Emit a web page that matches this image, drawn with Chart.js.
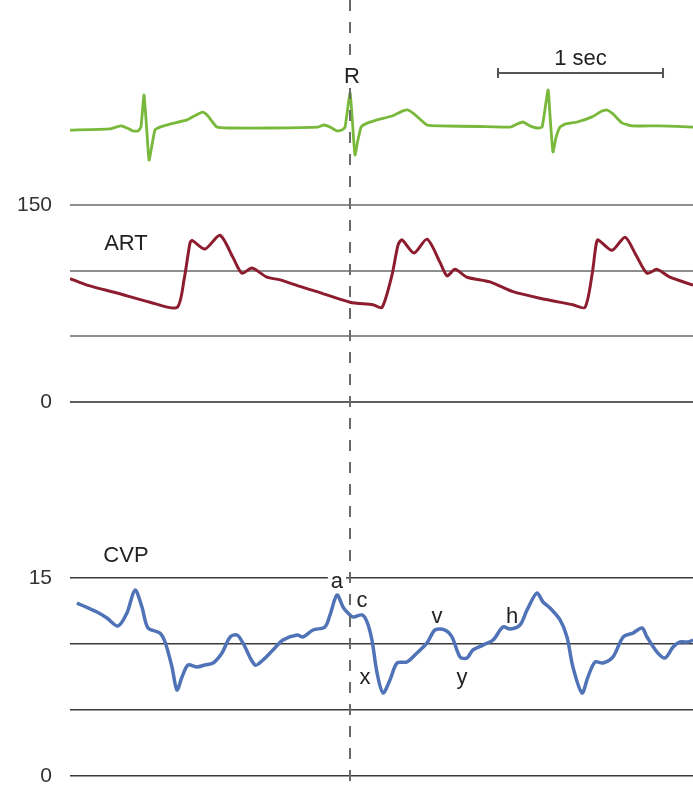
<!DOCTYPE html>
<html><head><meta charset="utf-8">
<script src="https://cdn.jsdelivr.net/npm/chart.js@4.4.1/dist/chart.umd.min.js"></script>
<style>html,body{margin:0;padding:0;background:#fff;}#wrap{width:693px;height:790px;position:relative;}</style>
</head><body><div id="wrap"><canvas id="c" width="693" height="790"></canvas></div>
<script>
// ---- data (time in seconds) ----
const ecgTime = [0,0.242,0.279,0.309,0.345,0.382,0.412,0.430,0.448,0.461,0.479,0.497,0.515,0.545,0.606,0.709,0.776,0.806,0.836,0.891,0.970,1.212,1.503,1.539,1.576,1.618,1.648,1.667,1.697,1.709,1.727,1.745,1.764,1.788,1.861,1.952,2.018,2.048,2.085,2.164,2.242,2.485,2.667,2.709,2.745,2.788,2.830,2.861,2.897,2.909,2.927,2.945,2.970,3.000,3.073,3.164,3.224,3.255,3.291,3.345,3.406,3.576,3.776];
const ecgMV = [-0.07,-0.03,0.03,0.07,0.0,-0.10,-0.10,0.03,1.10,0.27,-1.07,-0.57,-0.07,0.03,0.13,0.27,0.47,0.53,0.40,0.03,0.0,0.0,0.03,0.10,0.03,-0.10,-0.07,0.03,1.17,0.43,-0.90,-0.40,0.03,0.13,0.27,0.40,0.57,0.60,0.47,0.10,0.07,0.05,0.03,0.13,0.20,0.07,0.0,0.03,1.27,0.43,-0.80,-0.33,0.03,0.13,0.20,0.37,0.57,0.60,0.47,0.17,0.07,0.07,0.03];

const artTime = [0,0.103,0.285,0.485,0.648,0.691,0.727,0.739,0.818,0.909,0.988,1.042,1.103,1.194,1.273,1.394,1.497,1.697,1.836,1.891,1.952,1.988,2.012,2.085,2.164,2.242,2.285,2.333,2.406,2.545,2.685,2.848,3.048,3.121,3.164,3.188,3.200,3.285,3.364,3.430,3.497,3.558,3.636,3.776];
const artMmHg = [94,89,83,76,72,93,121,123,116.5,127,110,98,102,95,93,88,84,76,74,72,97,119.5,123.5,113.5,124,106.5,96,101,95,91.5,84,79,74,72,97,119.5,123.5,115.5,125.5,112,98,101,95,89];

const cvpTime = [0.042,0.109,0.164,0.224,0.291,0.345,0.394,0.436,0.473,0.545,0.576,0.618,0.648,0.679,0.715,0.770,0.818,0.867,0.921,0.970,1.012,1.048,1.121,1.170,1.230,1.291,1.376,1.412,1.473,1.545,1.576,1.618,1.655,1.679,1.715,1.770,1.800,1.830,1.861,1.897,1.939,1.982,2.042,2.103,2.164,2.212,2.273,2.315,2.364,2.406,2.442,2.503,2.564,2.624,2.667,2.727,2.770,2.830,2.867,2.909,2.970,3.012,3.048,3.103,3.139,3.182,3.230,3.291,3.352,3.412,3.467,3.497,3.558,3.606,3.655,3.697,3.745,3.776];
const cvpMmHg = [13.1,12.73,12.42,11.97,11.36,12.35,14.09,12.8,11.21,10.83,10.15,8.26,6.52,7.5,8.41,8.26,8.41,8.56,9.32,10.53,10.68,10.08,8.41,8.79,9.55,10.3,10.68,10.53,11.06,11.29,12.2,13.71,12.8,12.42,12.05,12.2,11.67,10.3,7.8,6.29,7.27,8.56,8.64,9.32,10.08,11.06,11.06,10.53,9.02,8.94,9.55,9.92,10.3,11.29,11.14,11.44,12.58,13.86,13.18,12.73,11.82,10.53,8.26,6.29,7.5,8.64,8.56,9.02,10.53,10.83,11.21,10.53,9.39,8.94,9.77,10.15,10.15,10.3];

const artTicks = [0, 50, 100, 150];
const artTickLabels = ['0', '', '', '150'];
const cvpTicks = [0, 5, 10, 15];
const cvpTickLabels = ['0', '', '', '15'];

// ---- layout helpers (panel geometry) ----
const H = 790, SPLIT = 480;
function fitRange(vTop, pTop, vBot, pBot, boxTop, boxBot) {
  const k = (pBot - pTop) / (vTop - vBot);
  return { max: vTop + (pTop - boxTop) / k, min: vBot - (boxBot - pBot) / k };
}
const ecgR = fitRange(1, 98, 0, 128, 0, H);
const artR = fitRange(150, 205, 0, 402, 0, SPLIT);
const cvpR = fitRange(15, 578, 0, 776, SPLIT, H);
const FONT = '"Liberation Sans", Arial, sans-serif';

const pts = (t, v) => t.map((x, i) => ({ x: x, y: v[i] }));

function fixAxis(w) {
  return function (axis) {
    axis.width = w;
    axis.paddingTop = 0; axis.paddingBottom = 0; axis.paddingLeft = 0; axis.paddingRight = 0;
  };
}

const overlay = {
  id: 'overlay',
  afterDatasetsDraw(chart) {
    const ctx = chart.ctx;
    const xs = chart.scales.x, ye = chart.scales.yE, ya = chart.scales.yA, yc = chart.scales.yC;
    ctx.save();
    // dashed R line
    const tR = 1.697;
    const xR = xs.getPixelForValue(tR);
    ctx.strokeStyle = '#6a6a6a';
    ctx.lineWidth = 2;
    ctx.setLineDash([11, 11]);
    ctx.beginPath();
    ctx.moveTo(xR, 0);
    ctx.lineTo(xR, 782);
    ctx.stroke();
    ctx.setLineDash([]);

    function txt(s, px, py, size, bg) {
      ctx.font = size + 'px ' + FONT;
      ctx.textAlign = 'center';
      ctx.textBaseline = 'alphabetic';
      if (bg) {
        const w = ctx.measureText(s).width;
        ctx.fillStyle = '#fff';
        ctx.fillRect(px - w / 2 - 3, py - size * 0.8, w + 6, size * 0.95);
      }
      ctx.fillStyle = '#222';
      ctx.fillText(s, px, py);
    }
    // R label
    txt('R', xs.getPixelForValue(1.709), ye.getPixelForValue(1.5), 22, true);
    // 1 sec scale bar
    const t0 = 2.594;
    const xa = xs.getPixelForValue(t0), xb = xs.getPixelForValue(t0 + 1);
    const yb = ye.getPixelForValue(1.83);
    ctx.strokeStyle = '#555';
    ctx.lineWidth = 2;
    ctx.beginPath();
    ctx.moveTo(xa, yb); ctx.lineTo(xb, yb);
    ctx.moveTo(xa, yb - 5); ctx.lineTo(xa, yb + 5);
    ctx.moveTo(xb, yb - 5); ctx.lineTo(xb, yb + 5);
    ctx.stroke();
    txt('1 sec', (xa + xb) / 2, ye.getPixelForValue(2.1), 22, false);
    // panel titles
    txt('ART', xs.getPixelForValue(0.339), ya.getPixelForValue(115.7), 22, false);
    txt('CVP', xs.getPixelForValue(0.339), yc.getPixelForValue(16.2), 22, false);
    // CVP wave labels
    txt('a', xs.getPixelForValue(1.618), yc.getPixelForValue(14.24), 22, true);
    txt('c', xs.getPixelForValue(1.770), yc.getPixelForValue(12.8), 22, false);
    txt('v', xs.getPixelForValue(2.224), yc.getPixelForValue(11.6), 22, false);
    txt('h', xs.getPixelForValue(2.679), yc.getPixelForValue(11.6), 22, false);
    txt('x', xs.getPixelForValue(1.788), yc.getPixelForValue(6.95), 22, false);
    txt('y', xs.getPixelForValue(2.376), yc.getPixelForValue(6.95), 22, false);
    ctx.restore();
  }
};

new Chart(document.getElementById('c'), {
  type: 'line',
  data: {
    datasets: [
      { label: 'ECG', data: pts(ecgTime, ecgMV), yAxisID: 'yE', borderColor: '#78b83a', borderWidth: 2.8, pointRadius: 0, tension: 0.15 },
      { label: 'ART', data: pts(artTime, artMmHg), yAxisID: 'yA', borderColor: '#8c1c2e', borderWidth: 3, pointRadius: 0, tension: 0.25 },
      { label: 'CVP', data: pts(cvpTime, cvpMmHg), yAxisID: 'yC', borderColor: '#4f73b6', borderWidth: 3.5, pointRadius: 0, tension: 0.3 }
    ]
  },
  options: {
    responsive: false,
    animation: false,
    devicePixelRatio: 1,
    layout: { padding: 0 },
    plugins: { legend: { display: false }, tooltip: { enabled: false } },
    scales: {
      x: { type: 'linear', min: 0, max: 623 / 165, display: false },
      yE: { type: 'linear', min: ecgR.min, max: ecgR.max, display: false },
      yA: {
        type: 'linear', position: 'left', stack: 'panels', stackWeight: SPLIT, weight: 2,
        min: artR.min, max: artR.max,
        afterBuildTicks: (a) => { a.ticks = artTicks.map(v => ({ value: v })); },
        afterFit: fixAxis(70),
        border: { display: false },
        grid: { drawTicks: false, lineWidth: 2, color: (c) => (c.tick && c.tick.value === 0 ? '#5e5e5e' : '#8e8e8e') },
        ticks: { padding: 18, color: '#333', font: { family: FONT, size: 21 }, autoSkip: false,
          callback: (v) => { const i = artTicks.indexOf(v); return i >= 0 ? artTickLabels[i] : ''; } }
      },
      yC: {
        type: 'linear', position: 'left', stack: 'panels', stackWeight: H - SPLIT, weight: 1,
        min: cvpR.min, max: cvpR.max,
        afterBuildTicks: (a) => { a.ticks = cvpTicks.map(v => ({ value: v })); },
        afterFit: fixAxis(70),
        border: { display: false },
        grid: { drawTicks: false, lineWidth: 1.5, color: '#3a3a3a' },
        ticks: { padding: 18, color: '#333', font: { family: FONT, size: 21 }, autoSkip: false,
          callback: (v) => { const i = cvpTicks.indexOf(v); return i >= 0 ? cvpTickLabels[i] : ''; } }
      }
    }
  },
  plugins: [overlay]
});
</script></body></html>
